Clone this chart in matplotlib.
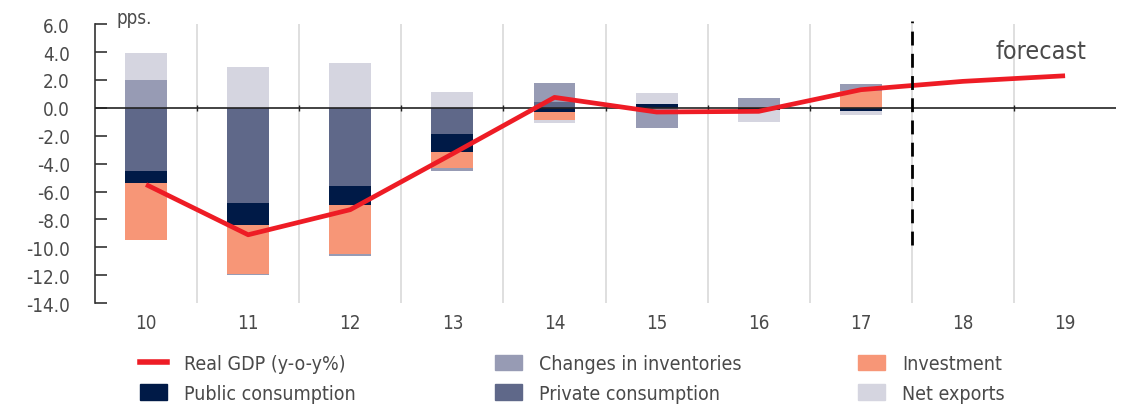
import matplotlib
matplotlib.use('Agg')
import matplotlib.pyplot as plt
from matplotlib.patches import Patch
from matplotlib.lines import Line2D
import numpy as np

plt.rcParams['font.family'] = ['DejaVu Sans']
plt.rcParams['font.stretch'] = 'condensed'
plt.rcParams['axes.unicode_minus'] = False

TEXT = '#4a4a4a'

# data (pps.)
years = ['10', '11', '12', '13', '14', '15', '16', '17', '18', '19']
private_cons = [-4.5, -6.8, -5.6, -1.85, 0.4, 0.0, 0.0, 0.0]
public_cons = [-0.9, -1.6, -1.4, -1.35, -0.3, 0.25, -0.15, -0.2]
investment = [-4.05, -3.5, -3.5, -1.1, -0.6, 0.0, 0.05, 1.2]
inventories = [2.0, -0.1, -0.1, -0.2, 1.35, -1.45, 0.65, 0.5]
net_exports = [1.9, 2.9, 3.2, 1.17, -0.2, 0.8, -0.85, -0.3]
real_gdp = [-5.5, -9.1, -7.3, -3.3, 0.75, -0.3, -0.25, 1.3, 1.9, 2.3]

series = [
    ('Private consumption', private_cons, '#5f6889'),
    ('Public consumption', public_cons, '#001a47'),
    ('Investment', investment, '#f79677'),
    ('Changes in inventories', inventories, '#979bb4'),
    ('Net exports', net_exports, '#d5d5e0'),
]

fig = plt.figure(figsize=(11.24, 4.06), dpi=100)
ax = fig.add_axes([0.0845, 0.251, 0.9085, 0.687])

x = np.arange(len(years))
xb = x[:len(private_cons)]
pos = np.zeros(len(xb))
neg = np.zeros(len(xb))
for name, vals, col in series:
    v = np.array(vals)
    bottom = np.where(v >= 0, pos, neg)
    ax.bar(xb, v, bottom=bottom, width=0.41, color=col, zorder=2)
    pos = pos + np.clip(v, 0, None)
    neg = neg + np.clip(v, None, 0)

ax.plot(x, real_gdp, color='#ee1c25', lw=3.4, zorder=4, solid_capstyle='butt')

ax.axhline(0, color='#222222', lw=1.2, zorder=3)
ax.plot([7.5, 7.5], [-9.8, 6.2], color='black', lw=2, ls=(0, (5, 3)), zorder=5, clip_on=False)
ax.text(8.76, 4.1, 'forecast', fontsize=18, color=TEXT, ha='center', va='center')

ax.set_xlim(-0.5, 9.5)
ax.set_ylim(-14, 6)
ax.set_xticks(x)
ax.set_xticklabels(years)
ax.set_xticks(x[:-1] + 0.5, minor=True)
ax.set_yticks(np.arange(-14, 7, 2))
ax.set_yticklabels(['%.1f' % t for t in np.arange(-14, 7, 2)])

for s in ['right', 'bottom']:
    ax.spines[s].set_visible(False)
ax.spines['top'].set_position(('data', 0))
ax.spines['top'].set_visible(False)
ax.spines['left'].set_color('#333333')
ax.spines['left'].set_linewidth(1.2)

ax.tick_params(axis='x', which='major', length=0, pad=7, labelsize=13.5, colors=TEXT)
ax.tick_params(axis='x', which='minor', top=True, bottom=False, direction='inout',
               length=5, width=1, color='#222222')
ax.tick_params(axis='y', direction='in', length=8.5, width=1.2, color='#333333',
               pad=18, labelsize=13.5, labelcolor=TEXT)
ax.grid(which='minor', axis='x', color='#d9d9d9', lw=1.2, zorder=0)
ax.set_axisbelow(True)

fig.text(117 / 1124, 1 - 19 / 406, 'pps.', fontsize=13.5, color=TEXT, va='center', ha='left')

col_items = [
    [(Line2D([], [], color='#ee1c25', lw=4), 'Real GDP (y-o-y%)'),
     (Patch(color='#001a47'), 'Public consumption')],
    [(Patch(color='#979bb4'), 'Changes in inventories'),
     (Patch(color='#5f6889'), 'Private consumption')],
    [(Patch(color='#f79677'), 'Investment'),
     (Patch(color='#d5d5e0'), 'Net exports')],
]
for xpos, items in zip([140, 495, 858], col_items):
    leg = fig.legend([h for h, _ in items], [l for _, l in items],
                     loc='upper left', bbox_to_anchor=(xpos / 1124, 1 - 355 / 406),
                     frameon=False, fontsize=14, handlelength=1.4, handleheight=0.85,
                     handletextpad=0.85, labelspacing=0.55, borderpad=0, borderaxespad=0)
    for t in leg.get_texts():
        t.set_color(TEXT)

fig.savefig('out.png', dpi=100)
